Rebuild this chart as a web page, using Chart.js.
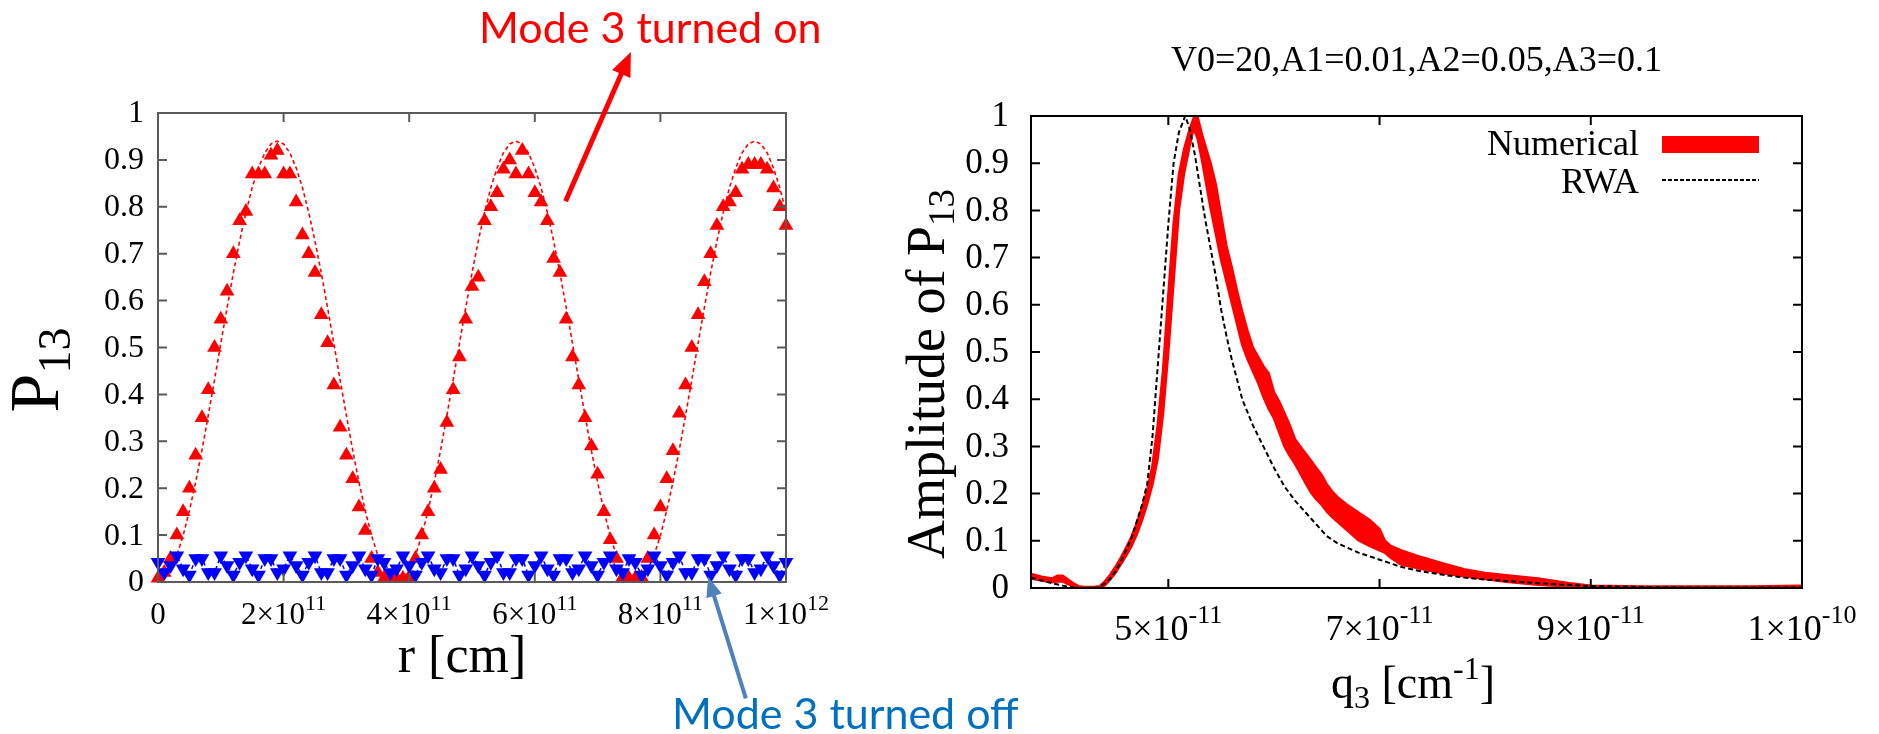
<!DOCTYPE html>
<html>
<head>
<meta charset="utf-8">
<title>P13 y amplitud</title>
<script src="https://cdn.jsdelivr.net/npm/chart.js"></script>
<style>
  body { margin: 0; background: #fff; }
  #contenedor { position: relative; width: 1879px; height: 734px; overflow: hidden; }
  canvas { position: absolute; left: 0; top: 0; }
</style>
</head>
<body>
<div id="contenedor">
  <canvas id="izquierda" width="1879" height="734"></canvas>
  <canvas id="derecha" width="1879" height="734"></canvas>
</div>
<script>
// ---- datos grafico izquierdo: r en unidades de 1e10 cm ----
var r_valores = [0,1,2,3,4,5,6,7,8,9,10,11,12,13,14,15,16,17,18,19,20,21,22,23,24,25,26,27,28,29,30,31,32,33,34,35,36,37,38,39,40,41,42,43,44,45,46,47,48,49,50,51,52,53,54,55,56,57,58,59,60,61,62,63,64,65,66,67,68,69,70,71,72,73,74,75,76,77,78,79,80,81,82,83,84,85,86,87,88,89,90,91,92,93,94,95,96,97,98,99,100];

// curva punteada roja (modo 3 encendido, analitica)
var curva_on = [0,0.006,0.026,0.057,0.099,0.152,0.213,0.281,0.355,0.431,0.509,0.585,0.659,0.727,0.788,0.841,0.883,0.915,0.934,0.94,0.934,0.915,0.883,0.841,0.788,0.727,0.659,0.585,0.509,0.431,0.355,0.281,0.213,0.152,0.099,0.057,0.026,0.006,0,
  0.006,0.026,0.057,0.099,0.152,0.213,0.281,0.355,0.431,0.509,0.585,0.659,0.727,0.788,0.841,0.883,0.915,0.934,0.94,0.934,0.915,0.883,0.841,0.788,0.727,0.659,0.585,0.509,0.431,0.355,0.281,0.213,0.152,0.099,0.057,0.026,0.006,0,
  0.006,0.026,0.057,0.099,0.152,0.213,0.281,0.355,0.431,0.509,0.585,0.659,0.727,0.788,0.841,0.883,0.915,0.934,0.94,0.934,0.915,0.883,0.841,0.788];

// triangulos rojos (numerico, modo 3 encendido)
var triangulos_on = [0.008,0.02,0.05,0.10,0.15,0.20,0.27,0.35,0.41,0.50,0.56,0.62,0.70,0.77,0.79,0.87,0.87,0.87,0.91,0.92,0.87,0.87,0.81,0.74,0.70,0.66,0.57,0.51,0.42,0.33,0.27,0.22,0.16,0.11,0.05,0.02,0.008,0.008,0.008,
  0.008,0.01,0.05,0.10,0.15,0.20,0.24,0.34,0.41,0.48,0.56,0.63,0.65,0.77,0.80,0.83,0.88,0.90,0.87,0.92,0.87,0.83,0.81,0.77,0.69,0.66,0.56,0.48,0.42,0.35,0.29,0.23,0.15,0.09,0.05,0.01,0.008,0.008,
  0.01,0.05,0.10,0.16,0.22,0.28,0.36,0.42,0.50,0.57,0.64,0.70,0.76,0.80,0.81,0.83,0.88,0.89,0.89,0.89,0.88,0.84,0.80,0.76];

// triangulos azules (modo 3 apagado)
var triangulos_off = [0.042,0.02,0.035,0.056,0.028,0.015,0.05,0.05,0.02,0.02,
  0.056,0.035,0.015,0.042,0.056,0.028,0.015,0.05,0.05,0.02,
  0.028,0.056,0.035,0.015,0.042,0.056,0.02,0.02,0.05,0.05,
  0.015,0.035,0.056,0.028,0.015,0.05,0.042,0.02,0.028,0.056,
  0.035,0.015,0.042,0.056,0.028,0.02,0.05,0.05,0.015,0.028,
  0.056,0.035,0.015,0.042,0.056,0.02,0.02,0.05,0.05,0.015,
  0.035,0.056,0.028,0.015,0.05,0.05,0.02,0.028,0.056,0.035,
  0.015,0.042,0.056,0.028,0.02,0.05,0.042,0.015,0.028,0.056,
  0.035,0.015,0.042,0.056,0.02,0.02,0.05,0.05,0.015,0.035,
  0.056,0.028,0.015,0.05,0.05,0.02,0.028,0.056,0.035,0.015,
  0.042];

var ticks_x_izq = [0, 2e11, 4e11, 6e11, 8e11, 1e12];
var mant_x_izq = ['0', '2\u00d710', '4\u00d710', '6\u00d710', '8\u00d710', '1\u00d710'];
var exp_x_izq = ['', '11', '11', '11', '11', '12'];
var ticks_y = [0, 0.1, 0.2, 0.3, 0.4, 0.5, 0.6, 0.7, 0.8, 0.9, 1];
var etiquetas_y = ['0', '0.1', '0.2', '0.3', '0.4', '0.5', '0.6', '0.7', '0.8', '0.9', '1'];

// ---- datos grafico derecho: q3 en unidades de 1e-11 cm^-1 ----
var q_num = [3.7,3.8,3.9,3.95,4.0,4.05,4.1,4.15,4.2,4.3,4.35,4.4,4.45,4.5,4.55,4.6,4.65,4.7,4.75,4.8,4.85,4.9,4.95,5.0,5.05,5.1,5.15,5.2,5.24,5.28,5.32,5.36,5.4,5.45,5.5,5.55,5.6,5.65,5.7,5.75,5.8,5.85,5.9,5.95,6.0,6.05,6.1,6.15,6.2,6.25,6.3,6.35,6.4,6.45,6.5,6.55,6.6,6.7,6.8,6.9,7.0,7.05,7.1,7.2,7.4,7.6,7.8,8.0,8.2,8.5,8.8,9.0,9.5,10.0,10.5,11.0];
var num_inferior = [0.020,0.016,0.012,0.014,0.014,0.008,0.004,0.000,0.000,0.000,0.000,0.006,0.018,0.032,0.050,0.068,0.088,0.113,0.143,0.178,0.22,0.275,0.37,0.50,0.65,0.80,0.88,0.935,0.975,0.95,0.905,0.855,0.805,0.75,0.695,0.65,0.605,0.56,0.515,0.485,0.46,0.435,0.405,0.38,0.36,0.33,0.30,0.28,0.263,0.243,0.222,0.203,0.188,0.177,0.162,0.151,0.141,0.121,0.101,0.09,0.08,0.075,0.065,0.05,0.04,0.031,0.025,0.019,0.013,0.007,0.003,0.001,0.000,0.000,0.000,0.001];
var num_superior = [0.030,0.024,0.020,0.026,0.026,0.018,0.010,0.004,0.002,0.002,0.004,0.014,0.028,0.045,0.064,0.085,0.108,0.136,0.17,0.205,0.26,0.345,0.46,0.62,0.77,0.875,0.93,0.97,0.995,0.995,0.96,0.93,0.90,0.855,0.79,0.725,0.68,0.63,0.585,0.545,0.51,0.49,0.47,0.455,0.415,0.395,0.37,0.345,0.315,0.30,0.285,0.27,0.255,0.24,0.22,0.205,0.193,0.175,0.16,0.145,0.125,0.10,0.09,0.08,0.065,0.052,0.04,0.032,0.027,0.02,0.01,0.005,0.003,0.003,0.003,0.005];

var q_rwa = [3.7,3.8,3.9,4.0,4.1,4.16,4.3,4.35,4.4,4.45,4.5,4.55,4.6,4.65,4.7,4.75,4.8,4.85,4.9,4.95,5.0,5.05,5.1,5.16,5.2,5.25,5.3,5.35,5.4,5.45,5.5,5.55,5.6,5.7,5.8,5.9,6.0,6.1,6.2,6.3,6.4,6.5,6.6,6.8,7.0,7.2,7.4,7.6,7.8,8.0,8.5,9.0,9.5,10.0,11.0];
var amp_rwa = [0.022,0.016,0.010,0.005,0.001,0.0,0.0,0.002,0.01,0.02,0.035,0.055,0.08,0.105,0.14,0.175,0.22,0.32,0.47,0.62,0.77,0.90,0.965,1.0,0.975,0.92,0.85,0.78,0.72,0.66,0.59,0.535,0.485,0.40,0.345,0.30,0.255,0.215,0.185,0.16,0.135,0.11,0.095,0.075,0.06,0.045,0.035,0.028,0.022,0.018,0.01,0.004,0.002,0.001,0.001];

var ticks_x_der = [5e-11, 7e-11, 9e-11, 1.1e-10];
var mant_x_der = ['5\u00d710', '7\u00d710', '9\u00d710', '1\u00d710'];
var exp_x_der = ['-11', '-11', '-11', '-10'];

var SERIF = '"Liberation Serif", "Times New Roman", serif';

function puntos(xs, ys, factor) {
  var arr = [];
  for (let i = 0; i < xs.length; i++) {
    arr.push({ x: xs[i] * factor, y: ys[i] });
  }
  return arr;
}

function textoCientifico(ctx, mant, exp, x, base, tam, tamSup, sube) {
  ctx.font = tam + 'px ' + SERIF;
  var w1 = ctx.measureText(mant).width;
  ctx.font = tamSup + 'px ' + SERIF;
  var w2 = exp ? ctx.measureText(exp).width : 0;
  var x0 = x - (w1 + w2) / 2;
  ctx.textAlign = 'left';
  ctx.textBaseline = 'alphabetic';
  ctx.font = tam + 'px ' + SERIF;
  ctx.fillText(mant, x0, base);
  if (exp) {
    ctx.font = tamSup + 'px ' + SERIF;
    ctx.fillText(exp, x0 + w1, base - sube);
  }
}

// texto rotado con subindice, centrado en (cx, cy)
function tituloVertical(ctx, texto, sub, tam, tamSub, baja, cx, cy) {
  ctx.save();
  ctx.fillStyle = '#000';
  ctx.translate(cx, cy);
  ctx.rotate(-Math.PI / 2);
  ctx.font = tam + 'px ' + SERIF;
  var w1 = ctx.measureText(texto).width;
  ctx.font = tamSub + 'px ' + SERIF;
  var w2 = ctx.measureText(sub).width;
  ctx.textAlign = 'left';
  ctx.textBaseline = 'alphabetic';
  ctx.font = tam + 'px ' + SERIF;
  ctx.fillText(texto, -(w1 + w2) / 2, 0);
  ctx.font = tamSub + 'px ' + SERIF;
  ctx.fillText(sub, -(w1 + w2) / 2 + w1, baja);
  ctx.restore();
}

function flecha(ctx, x1, y1, x2, y2, color, ancho, largo, abre) {
  var ang = Math.atan2(y2 - y1, x2 - x1);
  ctx.save();
  ctx.strokeStyle = color;
  ctx.fillStyle = color;
  ctx.lineWidth = ancho;
  ctx.beginPath();
  ctx.moveTo(x1, y1);
  ctx.lineTo(x2 - Math.cos(ang) * largo * 0.8, y2 - Math.sin(ang) * largo * 0.8);
  ctx.stroke();
  ctx.beginPath();
  ctx.moveTo(x2, y2);
  ctx.lineTo(x2 - Math.cos(ang) * largo + Math.sin(ang) * abre, y2 - Math.sin(ang) * largo - Math.cos(ang) * abre);
  ctx.lineTo(x2 - Math.cos(ang) * largo - Math.sin(ang) * abre, y2 - Math.sin(ang) * largo + Math.cos(ang) * abre);
  ctx.closePath();
  ctx.fill();
  ctx.restore();
}

function marcoYTicks(chart, ticksX, color, grosor, largo) {
  var ctx = chart.ctx;
  var a = chart.chartArea;
  var sx = chart.scales.x, sy = chart.scales.y;
  ctx.save();
  ctx.strokeStyle = color;
  ctx.lineWidth = grosor;
  ctx.strokeRect(a.left, a.top, a.right - a.left, a.bottom - a.top);
  ctx.beginPath();
  for (let i = 0; i < ticksX.length; i++) {
    var px = sx.getPixelForValue(ticksX[i]);
    ctx.moveTo(px, a.bottom); ctx.lineTo(px, a.bottom - largo);
    ctx.moveTo(px, a.top); ctx.lineTo(px, a.top + largo);
  }
  for (let i = 0; i < ticks_y.length; i++) {
    var py = sy.getPixelForValue(ticks_y[i]);
    ctx.moveTo(a.left, py); ctx.lineTo(a.left + largo, py);
    ctx.moveTo(a.right, py); ctx.lineTo(a.right - largo, py);
  }
  ctx.stroke();
  ctx.restore();
}

var decoradoIzquierda = {
  id: 'decoradoIzquierda',
  afterDraw: function (chart) {
    var ctx = chart.ctx;
    var sx = chart.scales.x, sy = chart.scales.y;
    marcoYTicks(chart, ticks_x_izq, '#5a5a5a', 2, 9);
    ctx.save();
    ctx.fillStyle = '#000';
    // etiquetas eje y
    ctx.font = '32px ' + SERIF;
    ctx.textAlign = 'right';
    ctx.textBaseline = 'middle';
    for (let i = 0; i < ticks_y.length; i++) {
      ctx.fillText(etiquetas_y[i], 144, sy.getPixelForValue(ticks_y[i]) + 1);
    }
    // etiquetas eje x
    for (let i = 0; i < ticks_x_izq.length; i++) {
      textoCientifico(ctx, mant_x_izq[i], exp_x_izq[i], sx.getPixelForValue(ticks_x_izq[i]), 624, 31, 22, 14);
    }
    // titulo eje x
    ctx.font = '52px ' + SERIF;
    ctx.textAlign = 'center';
    ctx.textBaseline = 'alphabetic';
    ctx.fillText('r [cm]', 462, 672);
    ctx.restore();
    tituloVertical(ctx, 'P', '13', 70, 46, 12, 58, 370);

    // anotaciones
    ctx.save();
    ctx.font = '43px Lato, "Open Sans", sans-serif';
    ctx.textAlign = 'left';
    ctx.textBaseline = 'alphabetic';
    ctx.fillStyle = '#ff0000';
    ctx.fillText('Mode 3 turned on', 479, 43);
    ctx.fillStyle = '#0070c0';
    ctx.fillText('Mode 3 turned off', 672, 729);
    ctx.restore();
    flecha(ctx, sx.getPixelForValue(6.49e11), sy.getPixelForValue(0.812), sx.getPixelForValue(7.53e11), sy.getPixelForValue(1.13), '#ff0000', 5, 24, 10);
    flecha(ctx, sx.getPixelForValue(9.36e11), sy.getPixelForValue(-0.248), sx.getPixelForValue(8.76e11), sy.getPixelForValue(0.011), '#4f81bd', 4, 20, 8);
  }
};

var decoradoDerecha = {
  id: 'decoradoDerecha',
  afterDraw: function (chart) {
    var ctx = chart.ctx;
    var a = chart.chartArea;
    var sx = chart.scales.x, sy = chart.scales.y;
    marcoYTicks(chart, ticks_x_der, '#000', 2, 9);
    ctx.save();
    ctx.fillStyle = '#000';
    ctx.font = '35px ' + SERIF;
    ctx.textAlign = 'right';
    ctx.textBaseline = 'middle';
    for (let i = 0; i < ticks_y.length; i++) {
      ctx.fillText(etiquetas_y[i], 1009, sy.getPixelForValue(ticks_y[i]) + 1);
    }
    for (let i = 0; i < ticks_x_der.length; i++) {
      textoCientifico(ctx, mant_x_der[i], exp_x_der[i], sx.getPixelForValue(ticks_x_der[i]), 640, 36, 26, 17);
    }
    // titulo
    ctx.font = '36px ' + SERIF;
    ctx.textAlign = 'center';
    ctx.textBaseline = 'alphabetic';
    ctx.fillText('V0=20,A1=0.01,A2=0.05,A3=0.1', (a.left + a.right) / 2, 71);

    // titulo eje x: q3 [cm-1]
    ctx.textAlign = 'left';
    var partes = [['q', 46, 0], ['3', 32, -10], [' [cm', 46, 0], ['-1', 32, 19], [']', 46, 0]];
    var total = 0;
    for (let i = 0; i < partes.length; i++) {
      ctx.font = partes[i][1] + 'px ' + SERIF;
      total += ctx.measureText(partes[i][0]).width;
    }
    var xx = 1413 - total / 2;
    for (let i = 0; i < partes.length; i++) {
      ctx.font = partes[i][1] + 'px ' + SERIF;
      ctx.fillText(partes[i][0], xx, 698 - partes[i][2]);
      xx += ctx.measureText(partes[i][0]).width;
    }
    ctx.restore();

    // titulo eje y: Amplitude of P13
    tituloVertical(ctx, 'Amplitude of P', '13', 54, 37, 10, 944, 374);

    // leyenda
    ctx.save();
    ctx.font = '36px ' + SERIF;
    ctx.fillStyle = '#000';
    ctx.textAlign = 'right';
    ctx.textBaseline = 'middle';
    ctx.fillText('Numerical', 1639, 146);
    ctx.fillText('RWA', 1639, 184);
    ctx.fillStyle = '#ff0000';
    ctx.fillRect(1662, 136, 97, 17);
    ctx.strokeStyle = '#000';
    ctx.lineWidth = 2;
    ctx.setLineDash([4, 2]);
    ctx.beginPath();
    ctx.moveTo(1662, 180);
    ctx.lineTo(1759, 180);
    ctx.stroke();
    ctx.restore();
  }
};

function crear_izquierda() {
  var ctx = document.getElementById('izquierda').getContext('2d');
  window.graficaIzq = new Chart(ctx, {
    type: 'line',
    data: {
      datasets: [
        {
          label: 'Mode 3 turned off',
          data: puntos(r_valores, triangulos_off, 1e10),
          borderColor: '#0000ff',
          borderWidth: 1.5,
          borderDash: [4, 3],
          backgroundColor: '#0000ff',
          pointStyle: 'triangle',
          rotation: 180,
          pointRadius: 8.5,
          pointBorderWidth: 0,
          clip: false,
          order: 0
        },
        {
          label: 'Mode 3 turned on',
          data: puntos(r_valores, triangulos_on, 1e10),
          showLine: false,
          borderColor: '#ff0000',
          backgroundColor: '#ff0000',
          pointStyle: 'triangle',
          pointRadius: 8.5,
          pointBorderWidth: 0,
          clip: false,
          order: 1
        },
        {
          label: 'curva',
          data: puntos(r_valores, curva_on, 1e10),
          borderColor: '#ff0000',
          borderWidth: 1.6,
          borderDash: [4, 3],
          pointRadius: 0,
          order: 2
        }
      ]
    },
    options: {
      responsive: false,
      animation: false,
      events: [],
      layout: { padding: { left: 158, top: 113, right: 1879 - 786, bottom: 734 - 582 } },
      plugins: { legend: { display: false }, tooltip: { enabled: false } },
      scales: {
        x: { type: 'linear', min: 0, max: 1e12, display: false },
        y: { type: 'linear', min: 0, max: 1, display: false }
      }
    },
    plugins: [decoradoIzquierda]
  });
}

function crear_derecha() {
  var ctx = document.getElementById('derecha').getContext('2d');
  window.graficaDer = new Chart(ctx, {
    type: 'line',
    data: {
      datasets: [
        {
          label: 'RWA',
          data: puntos(q_rwa, amp_rwa, 1e-11),
          borderColor: '#000',
          borderWidth: 2,
          borderDash: [5, 3],
          pointRadius: 0,
          order: 0
        },
        {
          label: 'Numerical inf',
          data: puntos(q_num, num_inferior, 1e-11),
          borderColor: '#ff0000',
          borderWidth: 2.5,
          pointRadius: 0,
          fill: false,
          order: 1
        },
        {
          label: 'Numerical',
          data: puntos(q_num, num_superior, 1e-11),
          borderColor: '#ff0000',
          backgroundColor: '#ff0000',
          borderWidth: 2.5,
          pointRadius: 0,
          fill: '-1',
          order: 1
        }
      ]
    },
    options: {
      responsive: false,
      animation: false,
      events: [],
      layout: { padding: { left: 1031, top: 116, right: 1879 - 1802, bottom: 734 - 588 } },
      plugins: { legend: { display: false }, tooltip: { enabled: false } },
      scales: {
        x: { type: 'linear', min: 3.7e-11, max: 1.1e-10, display: false },
        y: { type: 'linear', min: 0, max: 1, display: false }
      }
    },
    plugins: [decoradoDerecha]
  });
}

crear_izquierda();
crear_derecha();
</script>
</body>
</html>
